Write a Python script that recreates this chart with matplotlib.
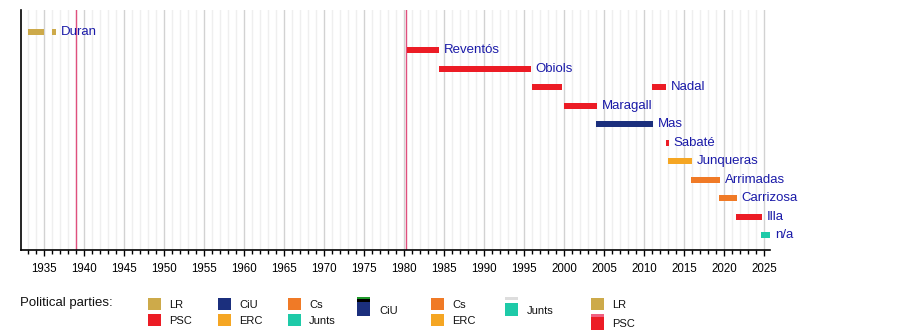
import matplotlib
matplotlib.use('Agg')
import matplotlib.pyplot as plt
from matplotlib.patches import Rectangle

plt.rcParams['font.family'] = ['Liberation Sans', 'DejaVu Sans']

# leaders, one row each (top to bottom)
leaders = ['Duran', 'Reventós', 'Obiols', 'Nadal', 'Maragall', 'Mas', 'Sabaté',
           'Junqueras', 'Arrimadas', 'Carrizosa', 'Illa', 'n/a']

# terms as bars
term_leader = ['Duran', 'Duran', 'Reventós', 'Obiols', 'Nadal', 'Nadal', 'Maragall',
               'Mas', 'Sabaté', 'Junqueras', 'Arrimadas', 'Carrizosa', 'Illa', 'n/a']
term_start = [1932.9, 1936.0, 1980.3, 1984.4, 1996.0, 2011.0, 2000.0,
              2004.0, 2012.75, 2013.0, 2015.9, 2019.4, 2021.5, 2024.6]
term_end = [1934.9, 1936.5, 1984.3, 1995.8, 1999.7, 2012.8, 2004.1,
            2011.1, 2013.1, 2016.0, 2019.5, 2021.6, 2024.7, 2025.8]
term_party = ['LR', 'LR', 'PSC', 'PSC', 'PSC', 'PSC', 'PSC',
              'CiU', 'PSC', 'ERC', 'Cs', 'Cs', 'PSC', 'Junts']

party_colors = {
    'LR': '#cdaa4a',
    'PSC': '#ec1c25',
    'CiU': '#1b2f7d',
    'ERC': '#f5a623',
    'Cs': '#f07a26',
    'Junts': '#1ecaa8',
}

# marker lines (years)
event_years = [1939.0, 1980.25]

# legend columns
legend_cols = [['LR', 'PSC'], ['CiU', 'ERC'], ['Cs', 'Junts'], ['CiU'],
               ['Cs', 'ERC'], ['Junts'], ['LR', 'PSC']]

fig = plt.figure(figsize=(9, 3.3), dpi=100)
W, H = 900, 330
ax = fig.add_axes([20.5 / W, 80 / H, 749.5 / W, 240 / H])

row_h = 18.5
y_top = (10 - 31.7) / row_h
y_bot = (250 - 31.7) / row_h
ax.set_xlim(1932.0, 2025.75)
ax.set_ylim(y_bot, y_top)

# grid
for yr in range(1933, 2026):
    col = '#d2d2d2' if yr % 5 == 0 else '#efefef'
    ax.axvline(yr, color=col, lw=1, zorder=0)
for yr in event_years:
    ax.axvline(yr, color='#e0507e', lw=1, zorder=1)

row_of = {name: i for i, name in enumerate(leaders)}
last_end = {}
for name, s, e, p in zip(term_leader, term_start, term_end, term_party):
    r = row_of[name]
    ax.barh(r, e - s, left=s, height=0.32, color=party_colors[p], zorder=2, clip_on=False)
    last_end[name] = max(last_end.get(name, 0), e)

for name in leaders:
    ax.text(last_end[name] + 0.6, row_of[name], name, color='#1a1aa8', fontsize=9.5,
            va='center', ha='left', clip_on=False)

for side in ['top', 'right']:
    ax.spines[side].set_visible(False)
ax.spines['left'].set_linewidth(1.2)
ax.spines['bottom'].set_linewidth(1.2)
ax.set_yticks([])
ax.set_xticks(range(1935, 2026, 5))
ax.set_xticks(range(1933, 2026), minor=True)
ax.tick_params(axis='x', which='major', length=4, width=1, labelsize=8.3, pad=5)
ax.tick_params(axis='x', which='minor', length=3, width=1)

# legend drawn in pixel coordinates
lg = fig.add_axes([0, 0, 1, 1])
lg.set_xlim(0, W)
lg.set_ylim(H, 0)
lg.axis('off')
lg.patch.set_alpha(0)
lg.text(20, 303, 'Political parties:', fontsize=9.5, va='center', ha='left', color='#111111')

col_x = [148, 218, 288, 357, 431, 505, 591]
pw = 13
for ci, (x, names) in enumerate(zip(col_x, legend_cols)):
    if len(names) == 2:
        for k, nm in enumerate(names):
            y0 = 297.5 + k * 16.5
            if ci == 6 and k == 1:
                lg.add_patch(Rectangle((x, y0), pw, 3, color='#f06080', lw=0))
                lg.add_patch(Rectangle((x, y0 + 3), pw, 13, color=party_colors[nm], lw=0))
                lg.text(x + 21, y0 + 10, nm, fontsize=8, va='center', ha='left', color='#111111')
            else:
                lg.add_patch(Rectangle((x, y0), pw, 12, color=party_colors[nm], lw=0))
                lg.text(x + 21, y0 + 7.5, nm, fontsize=8, va='center', ha='left', color='#111111')
    else:
        nm = names[0]
        if nm == 'CiU':
            lg.add_patch(Rectangle((x, 297), pw, 2, color='#1f9a2a', lw=0))
            lg.add_patch(Rectangle((x, 299), pw, 3, color='#000000', lw=0))
            lg.add_patch(Rectangle((x, 302), pw, 14, color=party_colors[nm], lw=0))
        else:
            lg.add_patch(Rectangle((x, 297), pw, 3, color='#dddddd', lw=0))
            lg.add_patch(Rectangle((x, 303), pw, 13, color=party_colors[nm], lw=0))
        lg.text(x + 22, 311, nm, fontsize=8, va='center', ha='left', color='#111111')

fig.savefig('out.png', dpi=100)
